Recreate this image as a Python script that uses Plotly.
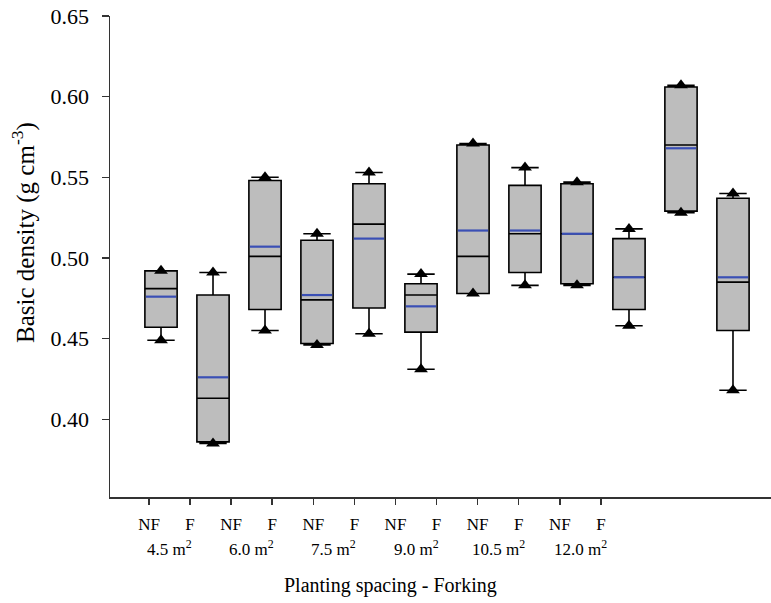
import plotly.graph_objects as go

# ---- data ----
groups = ["NF", "F", "NF", "F", "NF", "F", "NF", "F", "NF", "F", "NF", "F"]
spacings = ["4.5 m<sup>2</sup>", "6.0 m<sup>2</sup>", "7.5 m<sup>2</sup>",
            "9.0 m<sup>2</sup>", "10.5 m<sup>2</sup>", "12.0 m<sup>2</sup>"]
maxv   = [0.492, 0.491, 0.550, 0.515, 0.553, 0.490, 0.571, 0.556, 0.547, 0.518, 0.607, 0.540]
q3     = [0.492, 0.477, 0.548, 0.511, 0.546, 0.484, 0.570, 0.545, 0.546, 0.512, 0.606, 0.537]
median = [0.481, 0.413, 0.501, 0.474, 0.521, 0.477, 0.501, 0.515, 0.515, 0.488, 0.570, 0.485]
meanv  = [0.476, 0.426, 0.507, 0.477, 0.512, 0.470, 0.517, 0.517, 0.515, 0.488, 0.568, 0.488]
q1     = [0.457, 0.386, 0.468, 0.447, 0.469, 0.454, 0.478, 0.491, 0.484, 0.468, 0.529, 0.455]
minv   = [0.449, 0.385, 0.455, 0.446, 0.453, 0.431, 0.478, 0.483, 0.483, 0.458, 0.528, 0.418]
yticks = [0.40, 0.45, 0.50, 0.55, 0.60, 0.65]

FONT = "Liberation Serif"
n = len(groups)
xs = list(range(n))
BOXW = 0.62

fig = go.Figure()

# whisker-end triangles (drawn below the boxes)
fig.add_trace(go.Scatter(
    x=xs + xs, y=maxv + minv, mode="markers",
    marker=dict(symbol="triangle-up", size=12, color="black"),
    hoverinfo="skip", showlegend=False))

fig.add_trace(go.Box(
    x=xs, q1=q1, median=median, q3=q3, lowerfence=minv, upperfence=maxv,
    width=BOXW, whiskerwidth=0.85, fillcolor="#bdbdbd",
    line=dict(color="black", width=1.6), boxpoints=False, showlegend=False))

# mean lines (blue)
shapes = []
for i, m in enumerate(meanv):
    shapes.append(dict(type="line", xref="x", yref="y",
                       x0=i - BOXW / 2 + 0.02, x1=i + BOXW / 2 - 0.02, y0=m, y1=m,
                       line=dict(color="#3a4fb5", width=2.2), layer="above"))

# tick positions for the category labels (offset as in the reference)
tick0, tickstep = -0.231, 0.790
tickvals = [tick0 + tickstep * j for j in range(n)]

annotations = []
for k, s in enumerate(spacings):
    xm = (tickvals[2 * k] + tickvals[2 * k + 1]) / 2
    annotations.append(dict(x=xm, y=-0.107, xref="x", yref="paper", text=s,
                            showarrow=False, xanchor="center", yanchor="middle",
                            font=dict(family=FONT, size=17, color="black")))
annotations.append(dict(x=(390 - 110) / 661, y=-0.185, xref="paper", yref="paper",
                        text="Planting spacing - Forking", showarrow=False,
                        xanchor="center", yanchor="middle",
                        font=dict(family=FONT, size=20, color="black")))
annotations.append(dict(x=(24 - 110) / 661, y=(497 - 233) / 481, xref="paper", yref="paper",
                        text="Basic density (g cm<sup>-3</sup>)", textangle=-90,
                        showarrow=False, xanchor="center", yanchor="middle",
                        font=dict(family=FONT, size=25, color="black")))

fig.update_layout(
    width=771, height=603,
    margin=dict(l=110, r=0, t=16, b=106, autoexpand=False),
    paper_bgcolor="white", plot_bgcolor="white",
    showlegend=False,
    shapes=shapes, annotations=annotations,
    font=dict(family=FONT, size=16, color="black"),
)
fig.update_xaxes(range=[-0.981, 11.731], showline=True, linecolor="#333", linewidth=1.5,
                 ticks="outside", ticklen=6, tickcolor="#333", tickwidth=1.5,
                 tickvals=tickvals, ticktext=groups, ticklabelstandoff=5,
                 ticklabeloverflow="allow",
                 showgrid=False, zeroline=False, automargin=False,
                 tickfont=dict(family=FONT, size=17, color="black"))
fig.update_yaxes(range=[0.3518, 0.65], showline=True, linecolor="#333", linewidth=1.5,
                 ticks="outside", ticklen=7, tickcolor="#333", tickwidth=1.5,
                 tickvals=yticks, tickformat=".2f", ticklabelstandoff=8,
                 ticklabeloverflow="allow",
                 showgrid=False, zeroline=False, automargin=False,
                 tickfont=dict(family=FONT, size=22, color="black"))

# place the figure at the page's top-left corner (no default body margin)
fig.write_html("out.html",
               config={"displayModeBar": False, "staticPlot": True},
               post_script="document.body.style.margin='0';document.body.style.overflow='hidden';")
